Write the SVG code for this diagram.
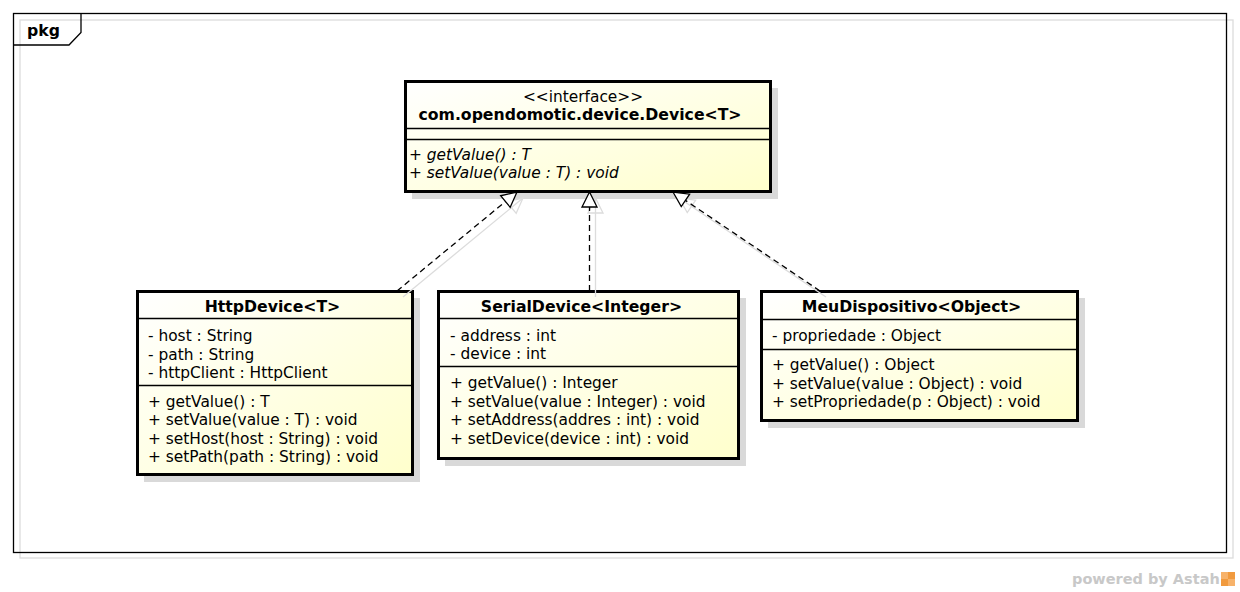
<svg xmlns="http://www.w3.org/2000/svg" width="1240" height="592" viewBox="0 0 1240 592">
  <defs>
    <linearGradient id="boxFill" x1="0" y1="0" x2="1" y2="1">
      <stop offset="0" stop-color="#ffffff"/>
      <stop offset="1" stop-color="#ffffcc"/>
    </linearGradient>
    <marker id="realize" viewBox="-2 -2 19 19" refX="15" refY="7.5" markerWidth="19" markerHeight="19" markerUnits="userSpaceOnUse" orient="auto" overflow="visible">
      <path d="M15,7.5 L0,0 L0,15 Z" fill="#ffffff" stroke="#000000" stroke-width="1.3"/>
    </marker>
    <marker id="realizeShadow" viewBox="-2 -2 19 19" refX="15" refY="7.5" markerWidth="19" markerHeight="19" markerUnits="userSpaceOnUse" orient="auto" overflow="visible">
      <path d="M15,7.5 L0,0 L0,15 Z" fill="none" stroke="#dcdcdc" stroke-width="1.3"/>
    </marker>
  </defs>
  <style>
    text { font-family: "DejaVu Sans", "Liberation Sans", sans-serif; font-size: 15.4px; fill: #000; }
    .title { font-weight: bold; font-size: 15.7px; text-anchor: middle; }
    .center { text-anchor: middle; }
    .abstract { font-style: italic; }
    .box { fill: url(#boxFill); stroke: #000; stroke-width: 3; }
    .shadow { fill: #d9d9d9; stroke: none; }
    .sep { stroke: #000; stroke-width: 1.3; }
    .dep { fill: none; stroke: #000; stroke-width: 1.3; stroke-dasharray: 6 4; marker-end: url(#realize); }
    .depShadow { fill: none; stroke: #dcdcdc; stroke-width: 1.3; marker-end: url(#realizeShadow); }
    .watermark { font-weight: bold; font-size: 14.5px; fill: #c8c8c8; }
  </style>

  <rect width="1240" height="592" fill="#ffffff"/>

  <!-- package frame -->
  <g id="frame">
    <rect x="20" y="20" width="1213" height="538" fill="none" stroke="#dcdcdc" stroke-width="1.3"/>
    <rect x="13.5" y="13.5" width="1213" height="539" fill="none" stroke="#000" stroke-width="1.3"/>
    <path d="M13.5,45 L69,45 L81,32.5 L81,13.5" fill="none" stroke="#000" stroke-width="1.3"/>
    <text x="27" y="36" style="font-weight:bold;font-size:15.7px">pkg</text>
  </g>

  <!-- interface Device<T> -->
  <g id="device">
    <rect class="shadow" x="412" y="88" width="366" height="111"/>
    <rect class="box" x="405.5" y="81.5" width="365" height="110"/>
    <line class="sep" x1="405.5" y1="128.5" x2="770.5" y2="128.5"/>
    <line class="sep" x1="405.5" y1="139.5" x2="770.5" y2="139.5"/>
    <text x="583" y="101.5" class="center">&lt;&lt;interface&gt;&gt;</text>
    <text x="580" y="120" class="title">com.opendomotic.device.Device&lt;T&gt;</text>
    <text x="409" y="159.5" class="abstract">+ getValue() : T</text>
    <text x="409" y="177.5" class="abstract">+ setValue(value : T) : void</text>
  </g>

  <!-- HttpDevice<T> -->
  <g id="httpDevice">
    <rect class="shadow" x="144" y="298" width="276" height="184"/>
    <rect class="box" x="137.5" y="291.5" width="275" height="183"/>
    <line class="sep" x1="137.5" y1="318.5" x2="412.5" y2="318.5"/>
    <line class="sep" x1="137.5" y1="385.5" x2="412.5" y2="385.5"/>
    <text x="272.5" y="311.5" class="title">HttpDevice&lt;T&gt;</text>
    <text x="148" y="341">- host : String</text>
    <text x="148" y="359.5">- path : String</text>
    <text x="148" y="378">- httpClient : HttpClient</text>
    <text x="148" y="406.5">+ getValue() : T</text>
    <text x="148" y="425">+ setValue(value : T) : void</text>
    <text x="148" y="443.5">+ setHost(host : String) : void</text>
    <text x="148" y="462">+ setPath(path : String) : void</text>
  </g>

  <!-- SerialDevice<Integer> -->
  <g id="serialDevice">
    <rect class="shadow" x="445" y="298" width="301" height="168"/>
    <rect class="box" x="438.5" y="291.5" width="300" height="167"/>
    <line class="sep" x1="438.5" y1="318.5" x2="738.5" y2="318.5"/>
    <line class="sep" x1="438.5" y1="366.5" x2="738.5" y2="366.5"/>
    <text x="581.5" y="311.5" class="title">SerialDevice&lt;Integer&gt;</text>
    <text x="450" y="340.5">- address : int</text>
    <text x="450" y="359">- device : int</text>
    <text x="450" y="388">+ getValue() : Integer</text>
    <text x="450" y="406.5">+ setValue(value : Integer) : void</text>
    <text x="450" y="425">+ setAddress(addres : int) : void</text>
    <text x="450" y="443.5">+ setDevice(device : int) : void</text>
  </g>

  <!-- MeuDispositivo<Object> -->
  <g id="meuDispositivo">
    <rect class="shadow" x="768" y="298" width="317" height="130"/>
    <rect class="box" x="761.5" y="291.5" width="316" height="129"/>
    <line class="sep" x1="761.5" y1="319.5" x2="1077.5" y2="319.5"/>
    <line class="sep" x1="761.5" y1="349.5" x2="1077.5" y2="349.5"/>
    <text x="911.5" y="311.5" class="title">MeuDispositivo&lt;Object&gt;</text>
    <text x="772" y="340.5">- propriedade : Object</text>
    <text x="772" y="370">+ getValue() : Object</text>
    <text x="772" y="388.5">+ setValue(value : Object) : void</text>
    <text x="772" y="407">+ setPropriedade(p : Object) : void</text>
  </g>

  <!-- realization connectors -->
  <g id="connectors">
    <path class="depShadow" d="M403,297 L523,198"/>
    <path class="depShadow" d="M595.5,297 L595.5,198"/>
    <path class="depShadow" d="M826,297 L679,198"/>
    <path class="dep" d="M397,291 L517,192"/>
    <path class="dep" d="M589.5,291 L589.5,192"/>
    <path class="dep" d="M820,291 L673,192"/>
  </g>

  <!-- footer -->
  <g id="footer">
    <text x="1072" y="583.5" class="watermark">powered by Astah</text>
    <rect x="1221" y="572" width="14" height="14" fill="#f7b26a"/>
    <rect x="1228" y="572" width="7" height="7" fill="#f19a3e"/>
    <rect x="1221" y="579" width="7" height="7" fill="#f19a3e"/>
  </g>
</svg>
